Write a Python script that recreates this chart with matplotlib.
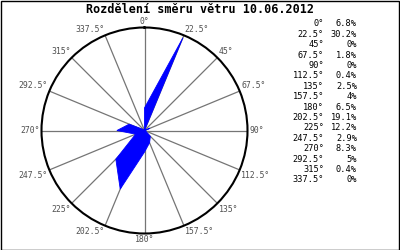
import numpy as np
import matplotlib
matplotlib.use("Agg")
import matplotlib.pyplot as plt
from matplotlib.patches import Rectangle

title = "Rozdělení směru větru 10.06.2012"
directions = [0, 22.5, 45, 67.5, 90, 112.5, 135, 157.5, 180, 202.5, 225, 247.5, 270, 292.5, 315, 337.5]
dir_labels = ["0°", "22.5°", "45°", "67.5°", "90°", "112.5°", "135°", "157.5°",
              "180°", "202.5°", "225°", "247.5°", "270°", "292.5°", "315°", "337.5°"]
percent = [6.8, 30.2, 0, 1.8, 0, 0.4, 2.5, 4, 6.5, 19.1, 12.2, 2.9, 8.3, 5, 0.4, 0]
pct_labels = ["6.8%", "30.2%", "0%", "1.8%", "0%", "0.4%", "2.5%", "4%",
              "6.5%", "19.1%", "12.2%", "2.9%", "8.3%", "5%", "0.4%", "0%"]

W, H = 400, 250
fig = plt.figure(figsize=(W / 100, H / 100), dpi=100)
fig.patch.set_facecolor("white")
mono = "DejaVu Sans Mono"

# outer frame
fig.add_artist(Rectangle((0.5 / W, 0.5 / H), 1 - 1.5 / W, 1 - 1.5 / H, transform=fig.transFigure,
                         fill=False, edgecolor="black", linewidth=1))

cx, cy, R = 144.5, 130.5, 103.0
ax = fig.add_axes([(cx - R) / W, (H - cy - R) / H, 2 * R / W, 2 * R / H], projection="polar")
ax.set_theta_zero_location("N")
ax.set_theta_direction(-1)
ax.set_ylim(0, 31)
ax.set_yticks([])
ax.set_xticks(np.deg2rad(directions))
ax.set_xticklabels([])
ax.xaxis.grid(True, color="#757575", linewidth=0.9)
ax.spines["polar"].set_color("black")
ax.spines["polar"].set_linewidth(1.5)

th = np.deg2rad(directions + [directions[0]])
rr = percent + [percent[0]]
ax.fill(th, rr, color="#0000FF", linewidth=0.6, edgecolor="#0000FF", zorder=3)

# angle labels
for d, lab in zip(directions, dir_labels):
    s, c = np.sin(np.deg2rad(d)), np.cos(np.deg2rad(d))
    ha = "left" if s > 0.01 else ("right" if s < -0.01 else "center")
    va = "bottom" if c > 0.01 else ("top" if c < -0.01 else "center")
    ax.text(np.deg2rad(d), 31.5, lab, ha=ha, va=va, fontsize=5.9, family=mono,
            color="#505050", clip_on=False)

# legend table
for i, (lab, p) in enumerate(zip(dir_labels, pct_labels)):
    y = 1 - (24.0 + i * 10.4) / H
    fig.text(324 / W, y, lab, ha="right", va="center", fontsize=6.2, family=mono, color="black")
    fig.text(357 / W, y, p, ha="right", va="center", fontsize=6.2, family=mono, color="black")

fig.text(200 / W, 1 - 9.5 / H, title, ha="center", va="center", fontsize=8.5,
         family=mono, fontweight="bold", color="black")

fig.savefig("out.png", dpi=100)
